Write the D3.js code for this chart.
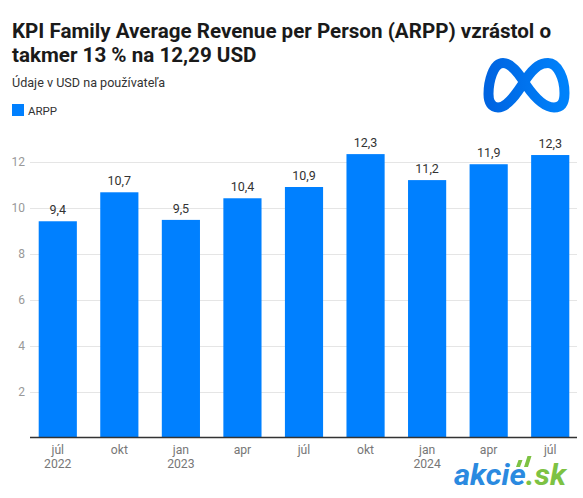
<!DOCTYPE html>
<html><head><meta charset="utf-8">
<script src="https://cdn.jsdelivr.net/npm/d3@7"></script>
<style>
body{margin:0;background:#fff;}
svg{display:block;font-family:Roboto,"Noto Sans",sans-serif;}
</style></head>
<body>
<svg id="chart" width="583" height="498"></svg>
<script>
const months = ["júl","okt","jan","apr","júl","okt","jan","apr","júl"];
const years  = ["2022","","2023","","","","2024","",""];
const categories = ["Q3 2022","Q4 2022","Q1 2023","Q2 2023","Q3 2023","Q4 2023","Q1 2024","Q2 2024","Q3 2024"];
const arpp = [9.41, 10.67, 9.47, 10.41, 10.9, 12.33, 11.2, 11.89, 12.29];
const yTicks = [2, 4, 6, 8, 10, 12];

const svg = d3.select("#chart");

// Title
const title = svg.append("text").attr("font-size", 20.6).attr("font-weight", 700).attr("fill", "#1a1a1a");
title.append("tspan").attr("x", 12).attr("y", 38).text("KPI Family Average Revenue per Person (ARPP) vzrástol o");
title.append("tspan").attr("x", 12).attr("y", 62).text("takmer 13 % na 12,29 USD");

svg.append("text").attr("x", 12).attr("y", 87).attr("font-size", 12.6)
  .attr("fill", "#333").text("Údaje v USD na používateľa");

svg.append("rect").attr("x", 12).attr("y", 104).attr("width", 12).attr("height", 12).attr("fill", "#0080ff");
svg.append("text").attr("x", 28).attr("y", 115).attr("font-size", 11.5).attr("fill", "#333").text("ARPP");

// Meta logo
const defs = svg.append("defs");
const grad = defs.append("linearGradient").attr("id", "mg").attr("x1", "0").attr("x2", "1").attr("y1", "0").attr("y2", "0");
grad.append("stop").attr("offset", "0").attr("stop-color", "#0064e1");
grad.append("stop").attr("offset", "0.5").attr("stop-color", "#0073ee");
grad.append("stop").attr("offset", "1").attr("stop-color", "#0082fb");
svg.append("path")
  .attr("transform", "translate(483,57)")
  .attr("d", "M43,28 C35,15 28,6 20,6 C10,6 5.5,25 5.5,37 C5.5,46 9,50.5 15,50.5 C24,50.5 33,38 43,22 C52,9 58,6 65,6 C75,6 81.5,22 81.5,36 C81.5,46 78,50.5 71,50.5 C62,50.5 52,41 43,28 Z")
  .attr("fill", "none").attr("stroke", "url(#mg)").attr("stroke-width", 10);

// Scales
const x = d3.scaleBand().domain(categories).range([27, 581]).paddingInner(0.38).paddingOuter(0.19);
const y = d3.scaleLinear().domain([0, 12]).range([437.7, 161.7]);

// Gridlines
svg.append("g").selectAll("line").data(yTicks).join("line")
  .attr("x1", 30).attr("x2", 577)
  .attr("y1", d => Math.round(y(d)) + 0.5).attr("y2", d => Math.round(y(d)) + 0.5)
  .attr("stroke", "#e5e5e5").attr("stroke-width", 1);

// Y axis labels
const yAxis = d3.axisLeft(y).tickValues(yTicks).tickSize(0).tickPadding(0);
const gy = svg.append("g").attr("transform", "translate(25,0)").call(yAxis);
gy.select(".domain").remove();
gy.selectAll("text").attr("font-size", 12).attr("fill", "#999").attr("font-family", "Roboto,sans-serif");

// Bars
svg.append("g").selectAll("rect").data(arpp).join("rect")
  .attr("x", (d, i) => x(categories[i]))
  .attr("width", x.bandwidth())
  .attr("y", d => y(d))
  .attr("height", d => y(0) - y(d))
  .attr("fill", "#0080ff");

// Value labels
svg.append("g").selectAll("text").data(arpp).join("text")
  .attr("x", (d, i) => x(categories[i]) + x.bandwidth() / 2)
  .attr("y", d => y(d) - 7)
  .attr("text-anchor", "middle").attr("font-size", 12.5).attr("fill", "#333")
  .text(d => d3.format(".1f")(d).replace(".", ","));

// Baseline
svg.append("line").attr("x1", 30).attr("x2", 577).attr("y1", 437.5).attr("y2", 437.5)
  .attr("stroke", "#333").attr("stroke-width", 1.5);

// X labels
const xAxis = d3.axisBottom(x).tickSize(0).tickFormat("");
const gx = svg.append("g").attr("transform", "translate(0,438)").call(xAxis);
gx.select(".domain").remove();
const xl = svg.append("g").selectAll("text").data(categories).join("text")
  .attr("text-anchor", "middle").attr("font-size", 12.2).attr("fill", "#777");
xl.append("tspan").attr("x", d => x(d) + x.bandwidth() / 2).attr("y", 454).text((d, i) => months[i]);
xl.append("tspan").attr("x", d => x(d) + x.bandwidth() / 2).attr("y", 468).text((d, i) => years[i]);

// akcie.sk logo
const logo = svg.append("g").attr("transform", "translate(454,485)");
logo.append("text").attr("x", 0).attr("y", 0).attr("font-size", 30).attr("font-weight", 700)
  .attr("font-style", "italic").attr("textLength", 112).attr("lengthAdjust", "spacingAndGlyphs")
  .call(t => {
    t.append("tspan").attr("fill", "#2b8ae0").text("akcie");
    t.append("tspan").attr("fill", "#7dc243").text(".sk");
  });
logo.append("path").attr("d", "M62,-18 L66,-18 L68.5,-25 L64.5,-25 Z M70,-18 L74,-18 L77.5,-29 L73.5,-29 Z").attr("fill", "#7dc243");
</script>
</body></html>
